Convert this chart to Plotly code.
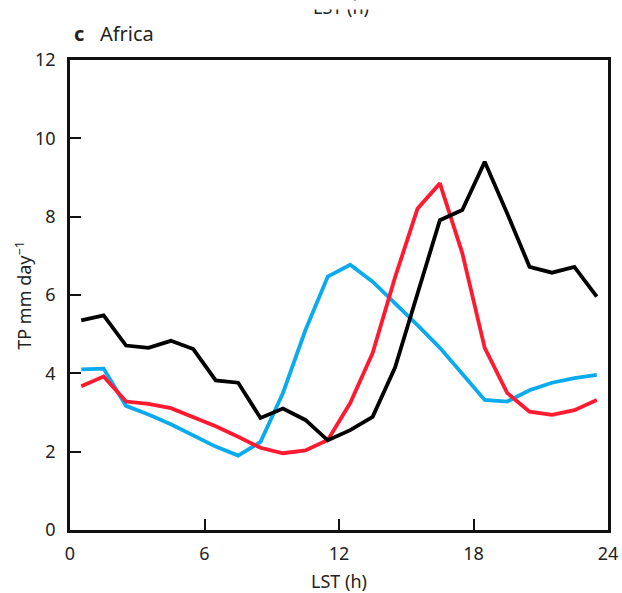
import plotly.graph_objects as go

# local solar time (h), hourly means at half-hours
hours = [0.5, 1.5, 2.5, 3.5, 4.5, 5.5, 6.5, 7.5, 8.5, 9.5, 10.5, 11.5,
         12.5, 13.5, 14.5, 15.5, 16.5, 17.5, 18.5, 19.5, 20.5, 21.5, 22.5, 23.5]

# TP mm/day, Africa
tp_black = [5.35, 5.48, 4.71, 4.65, 4.83, 4.62, 3.82, 3.76, 2.86, 3.1, 2.81, 2.29,
            2.55, 2.89, 4.15, 6.0, 7.91, 8.17, 9.4, 8.09, 6.72, 6.57, 6.72, 5.96]
tp_red = [3.67, 3.92, 3.28, 3.22, 3.11, 2.89, 2.65, 2.38, 2.1, 1.96, 2.03, 2.3,
          3.24, 4.52, 6.45, 8.2, 8.85, 7.07, 4.65, 3.5, 3.02, 2.94, 3.06, 3.32]
tp_blue = [4.1, 4.12, 3.17, 2.95, 2.7, 2.42, 2.13, 1.9, 2.25, 3.5, 5.1, 6.47,
           6.77, 6.34, 5.79, 5.23, 4.65, 4.0, 3.32, 3.28, 3.57, 3.76, 3.88, 3.96]

x_ticks = [0, 6, 12, 18, 24]
y_ticks = [0, 2, 4, 6, 8, 10, 12]

fig = go.Figure()
fig.add_trace(go.Scatter(x=hours, y=tp_blue, mode="lines",
                         line=dict(color="#0aaaee", width=3.8)))
fig.add_trace(go.Scatter(x=hours, y=tp_red, mode="lines",
                         line=dict(color="#ff1a30", width=3.8)))
fig.add_trace(go.Scatter(x=hours, y=tp_black, mode="lines",
                         line=dict(color="black", width=3.8)))

axis_style = dict(showline=True, linecolor="#111", linewidth=2.5, mirror=True,
                  ticks="inside", ticklen=11, tickwidth=2, tickcolor="#111",
                  showgrid=False, zeroline=False, automargin=False,
                  tickfont=dict(size=18, color="#222"))

fig.update_xaxes(range=[0, 24], tickvals=x_ticks, ticklabelstandoff=6,
                 title=dict(text="LST (h)", font=dict(size=18, color="#222"), standoff=14),
                 **axis_style)
fig.update_yaxes(range=[0, 12], tickvals=y_ticks, ticklabelstandoff=8,
                 **axis_style)

# y title as an annotation so it sits where the original has it
fig.add_annotation(x=-0.086, y=0.5, xref="paper", yref="paper", xanchor="center", yanchor="middle",
                   text="TP mm day<sup>\u22121</sup>", textangle=-90, showarrow=False,
                   font=dict(size=18, color="#222"))
fig.add_annotation(x=0.004, y=1.057, xref="paper", yref="paper", xanchor="left", yanchor="middle",
                   text="<b>c</b>   Africa", showarrow=False,
                   font=dict(size=20, color="#222"))
# bottom of the panel above's axis title, cut off at the top edge
fig.add_annotation(x=0.503, y=1.083, xref="paper", yref="paper", xanchor="center", yanchor="bottom",
                   text="LST (h)", showarrow=False,
                   font=dict(size=18, color="#222"))
# white strip hiding the upper part of it, like the crop in the original
fig.add_annotation(x=0.503, y=530 / 470, xref="paper", yref="paper", xanchor="center", yanchor="top",
                   text=" ", showarrow=False, width=130, height=8, borderpad=0,
                   bgcolor="white", font=dict(size=4))

fig.update_layout(width=622, height=593, showlegend=False,
                  font=dict(family="Noto Sans, sans-serif"),
                  plot_bgcolor="white", paper_bgcolor="white",
                  margin=dict(l=70, r=14, t=60, b=63))

# drop the page's default body margin so the figure fills the window
fig.write_html("out.html", config={"displayModeBar": False},
               post_script="document.body.style.margin='0px';")
